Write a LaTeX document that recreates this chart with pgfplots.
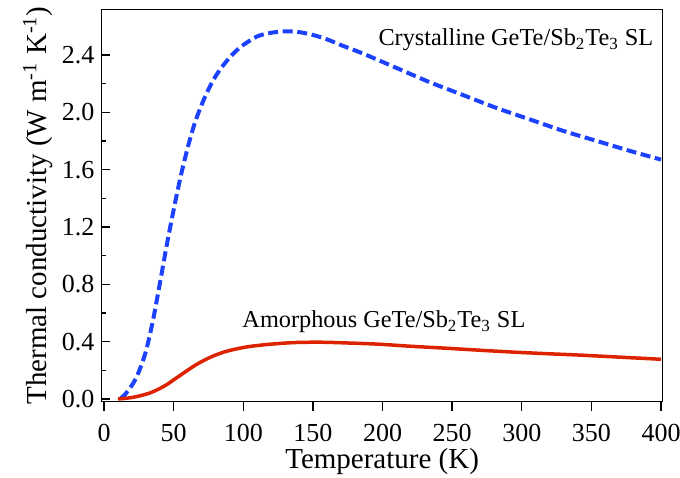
\documentclass[border=0pt]{standalone}
\usepackage{fontspec}
\setmainfont{Liberation Serif}
\usepackage{pgfplots}
\pgfplotsset{compat=1.18}
\definecolor{crysblue}{RGB}{28,66,255}
\definecolor{amred}{RGB}{221,34,0}

\pgfplotstableread{
T k
12 0.005
15 0.03
21 0.11
25 0.19
30 0.33
35 0.54
40 0.80
45 1.07
50 1.32
55 1.55
60 1.75
65 1.92
70 2.05
75 2.16
80 2.25
85 2.32
90 2.38
95 2.43
100 2.47
110 2.53
120 2.555
130 2.565
140 2.56
150 2.54
160 2.51
170 2.47
186 2.41
210 2.31
234 2.21
258 2.12
282 2.03
306 1.95
330 1.87
354 1.80
378 1.73
400 1.67
}\crystal

\pgfplotstableread{
T k
10 0.0
15 0.004
21 0.012
27 0.025
33 0.042
39 0.068
45 0.10
51 0.14
57 0.18
63 0.22
69 0.255
75 0.285
81 0.31
87 0.33
93 0.345
99 0.357
105 0.367
117 0.38
130 0.39
141 0.395
155 0.396
165 0.394
180 0.389
198 0.382
220 0.368
246 0.354
270 0.34
294 0.327
318 0.316
342 0.306
370 0.292
400 0.277
}\amorph

\begin{document}
\begin{tikzpicture}
\begin{axis}[
  scale only axis,
  width=280.6pt, height=196.2pt,
  xmin=-1.8, xmax=401.2, ymin=-0.019, ymax=2.719,
  xtick={0,50,...,400},
  ytick={0,0.4,0.8,1.2,1.6,2.0,2.4},
  minor y tick num=1,
  tick pos=left,
  xtick align=outside,
  ytick align=inside,
  major tick length=4.5pt,
  minor tick length=2.5pt,
  axis line style={line width=0.65pt},
  tick style={line width=0.65pt, black},
  /pgf/number format/assume math mode=true,
  yticklabel style={/pgf/number format/.cd, fixed, fixed zerofill, precision=1},
  ticklabel style={font=\rmfamily\fontsize{13}{15}\selectfont},
  xticklabel style={yshift=-3pt},
  label style={font=\rmfamily\fontsize{14.5}{17}\selectfont},
  xlabel style={yshift=3.5pt},
  ylabel style={yshift=-2.5pt},
  xlabel={Temperature (K)},
  ylabel={Thermal conductivity (W m\textsuperscript{-1} K\textsuperscript{-1})},
]
\addplot[crysblue, line width=2pt, dash pattern=on 5pt off 2.3pt, smooth] table[x=T, y=k] {\crystal};
\addplot[amred, line width=1.75pt, smooth] table[x=T, y=k] {\amorph};
\node[anchor=east, font=\rmfamily\fontsize{12.15}{14}\selectfont] at (axis cs:399.5,2.505) {Crystalline GeTe/Sb\textsubscript{2}Te\textsubscript{3} SL};
\node[font=\rmfamily\fontsize{12.15}{14}\selectfont] at (axis cs:201,0.537) {Amorphous GeTe/Sb\textsubscript{2}Te\textsubscript{3} SL};
\end{axis}
\pgfresetboundingbox
\path[use as bounding box] ([xshift=-50.75pt,yshift=-37.65pt]current axis.south west) rectangle ([xshift=8.65pt,yshift=4.65pt]current axis.north east);
\end{tikzpicture}
\end{document}
